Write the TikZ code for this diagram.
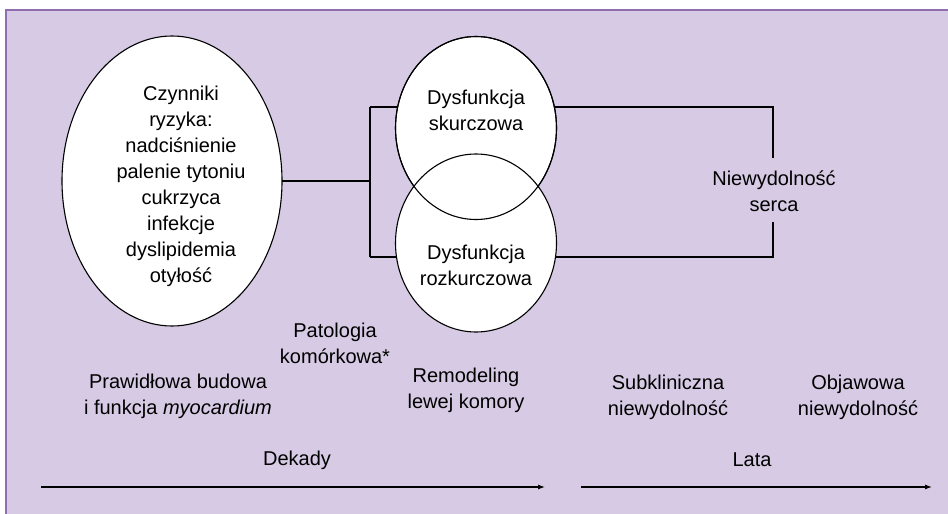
\documentclass[tikz,border=0pt]{standalone}
\usepackage{fontspec}
\setmainfont{Liberation Sans}
\usetikzlibrary{shapes.geometric,arrows.meta}
\definecolor{panel}{RGB}{215,202,228}
\definecolor{frame}{RGB}{145,110,175}
\begin{document}
\begin{tikzpicture}[x=1pt,y=-1pt,line width=1.1pt,
  lbl/.style={align=center,font=\fontsize{20}{26}\selectfont,inner sep=0pt},
  blob/.style={ellipse,draw=black,fill=white,line width=1.1pt,inner sep=0pt},
  conn/.style={draw=black,line width=1.1pt},
  timeline/.style={draw=black,line width=1.1pt,-{Latex[length=7pt,width=5pt]}}]
\useasboundingbox (0,0) rectangle (948,514);
\fill[panel] (6,10) rectangle (948,514);
\draw[frame,line width=1.5pt] (6,514) -- (6,10) -- (948,10);
% coordinates of the connector corners
\coordinate (jl) at (370,181);
\coordinate (jlt) at (370,107);
\coordinate (jlb) at (370,257);
\coordinate (jrt) at (773,107);
\coordinate (jrb) at (773,257);
\coordinate (jrm1) at (773,158);
\coordinate (jrm2) at (773,222);
\coordinate (cu) at (476,128);
\coordinate (cl) at (476,243);
% connectors (drawn below the shapes)
\draw[conn] (172,181) -- (jl);
\draw[conn] (jlt) -- (jlb);
\draw[conn] (jlt) -- (jlt -| cu) -- (jrt) -- (jrm1);
\draw[conn] (jlb) -- (jlb -| cl) -- (jrb) -- (jrm2);
% shapes
\node[blob,minimum width=220pt,minimum height=290pt] (ell) at (172,181) {};
\node[blob,minimum width=161pt,minimum height=183pt] (up) at (cu) {};
\node[blob,minimum width=161pt,minimum height=178pt] (lo) at (cl) {};
\draw[black,line width=1.1pt] (cu) ellipse [x radius=80.5, y radius=91.5];
% texts
\node[lbl] (risk) at (181,186) {Czynniki\\ryzyka:\\nadciśnienie\\palenie tytoniu\\cukrzyca\\infekcje\\dyslipidemia\\otyłość};
\node[lbl] (skur) at (476,110) {Dysfunkcja\\skurczowa};
\node[lbl] (rozk) at (476,265) {Dysfunkcja\\rozkurczowa};
\node[lbl] (hf) at (774,191) {Niewydolność\\serca};
\node[lbl] (pat) at (335,343) {Patologia\\komórkowa*};
\node[lbl] (norm) at (178,396) {Prawidłowa budowa\\i funkcja \textit{myocardium}};
\node[lbl] (remo) at (466,390) {Remodeling\\lewej komory};
\node[lbl] (subk) at (668,397) {Subkliniczna\\niewydolność};
\node[lbl] (objw) at (858,397) {Objawowa\\niewydolność};
\node[lbl] (dek) at (297,460) {Dekady};
\node[lbl] (lata) at (752,460) {Lata};
% time arrows
\coordinate (a1s) at (41,487);
\coordinate (a1e) at (545,487);
\coordinate (a2s) at (581,487);
\coordinate (a2e) at (932,487);
\draw[timeline] (a1s) -- (a1e);
\draw[timeline] (a2s) -- (a2e);
\end{tikzpicture}
\end{document}
